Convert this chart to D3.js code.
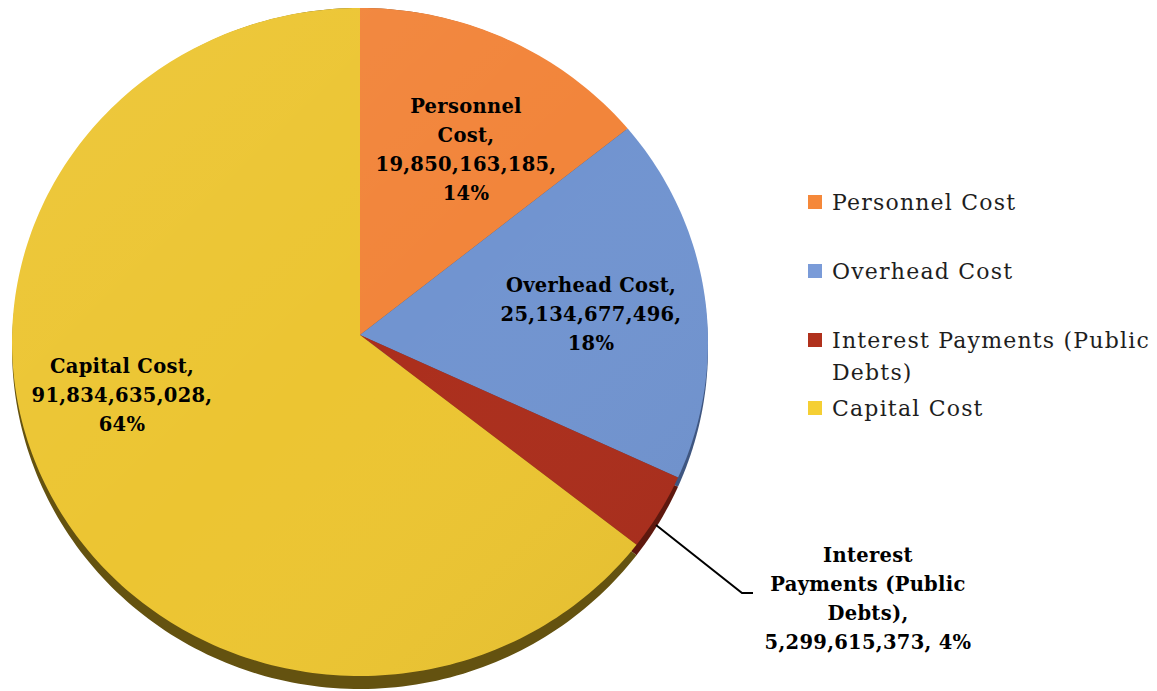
<!DOCTYPE html>
<html>
<head>
<meta charset="utf-8">
<script src="https://cdn.jsdelivr.net/npm/d3@7"></script>
<style>
  html, body { margin: 0; padding: 0; background: #fff; }
  svg { display: block; }
</style>
</head>
<body>
<svg id="chart" width="1157" height="691"></svg>
<script>
// Expenditure breakdown
const categories = ["Personnel Cost", "Overhead Cost", "Interest Payments (Public Debts)", "Capital Cost"];
const values = [19850163185, 25134677496, 5299615373, 91834635028];
const percents = ["14%", "18%", "4%", "64%"];
const faceColors = ["#f2853b", "#7194d0", "#ab2e1c", "#ecc532"];
const sideColors = ["#8a4a1c", "#3f5680", "#5e180e", "#645210"];
const legendColors = ["#f5883a", "#7a9bd8", "#b0311c", "#f5cf34"];

const fmt = d3.format(",");

// Label lines per slice (wrapped as in the chart)
const labelLines = [
  ["Personnel", "Cost,", fmt(values[0]) + ",", percents[0]],
  ["Overhead Cost,", fmt(values[1]) + ",", percents[1]],
  ["Interest", "Payments (Public", "Debts),", fmt(values[2]) + ", " + percents[2]],
  ["Capital Cost,", fmt(values[3]) + ",", percents[3]]
];
// label block centres (x, first line y)
const labelPos = [[466, 106], [591, 285], [868, 555], [122, 366]];

const svg = d3.select("#chart");
const defs = svg.append("defs");

// tilted pie geometry
const vx = 360, vy = 335;      // apex of the slices
const cx = 360, cy = 342;      // centre of the rim ellipse
const rx = 348, ry = 334;
const depth = 13;

const pie = d3.pie().sort(null).value(d => d)(values);

function pt(a, down) {
  const k = down ? depth / 2 : 0;
  return [cx + rx * Math.sin(a), (cy + k) - (ry + k) * Math.cos(a)];
}
function slicePath(d, down) {
  const p = d3.path();
  const s = pt(d.startAngle, down);
  p.moveTo(vx, vy + (down ? depth : 0));
  p.lineTo(s[0], s[1]);
  const n = Math.max(8, Math.ceil((d.endAngle - d.startAngle) / 0.02));
  for (let i = 1; i <= n; i++) {
    const a = d.startAngle + (d.endAngle - d.startAngle) * i / n;
    const q = pt(a, down);
    p.lineTo(q[0], q[1]);
  }
  p.closePath();
  return p.toString();
}

// side (extruded rim)
const g = svg.append("g");
g.selectAll("path.side")
  .data(pie)
  .join("path")
  .attr("class", "side")
  .attr("d", d => slicePath(d, true))
  .attr("fill", (d, i) => sideColors[i]);

// faces
g.selectAll("path.face")
  .data(pie)
  .join("path")
  .attr("class", "face")
  .attr("d", d => slicePath(d, false))
  .attr("fill", (d, i) => faceColors[i]);

// soft lighting over the face
const lg = defs.append("linearGradient").attr("id", "shade")
  .attr("x1", "0").attr("y1", "0").attr("x2", "1").attr("y2", "1");
lg.append("stop").attr("offset", "0").attr("stop-color", "#fff").attr("stop-opacity", 0.06);
lg.append("stop").attr("offset", "0.5").attr("stop-color", "#fff").attr("stop-opacity", 0);
lg.append("stop").attr("offset", "1").attr("stop-color", "#000").attr("stop-opacity", 0.05);
g.append("ellipse")
  .attr("cx", cx).attr("cy", cy).attr("rx", rx).attr("ry", ry)
  .attr("fill", "url(#shade)");

// leader line for the small slice
svg.append("polyline")
  .attr("points", [[656, 525], [742, 593], [753, 593]].map(p => p.join(",")).join(" "))
  .attr("fill", "none")
  .attr("stroke", "#000")
  .attr("stroke-width", 2);

// data labels
const lineH = 29;
labelLines.forEach((lines, i) => {
  const t = svg.append("text")
    .attr("text-anchor", "middle")
    .attr("font-family", "DejaVu Serif, serif")
    .attr("font-weight", "bold")
    .attr("font-size", 19.5)
    .attr("letter-spacing", 0.3)
    .attr("fill", "#000");
  lines.forEach((ln, j) => {
    t.append("tspan")
      .attr("x", labelPos[i][0])
      .attr("y", labelPos[i][1] + j * lineH)
      .attr("dy", "0.35em")
      .text(ln);
  });
});

// legend
const legendRows = [
  { lines: ["Personnel Cost"], y: 202 },
  { lines: ["Overhead Cost"], y: 271 },
  { lines: ["Interest Payments (Public", "Debts)"], y: 340 },
  { lines: ["Capital Cost"], y: 408 }
];
const leg = svg.append("g");
legendRows.forEach((r, i) => {
  leg.append("rect")
    .attr("x", 808).attr("y", r.y - 7)
    .attr("width", 14).attr("height", 14)
    .attr("fill", legendColors[i]);
  const t = leg.append("text")
    .attr("font-family", "DejaVu Serif, serif")
    .attr("font-size", 22)
    .attr("letter-spacing", 1.2)
    .attr("fill", "#1e1e1e");
  r.lines.forEach((ln, j) => {
    t.append("tspan").attr("x", 832).attr("y", r.y + j * 32).attr("dy", "0.35em").text(ln);
  });
});
</script>
</body>
</html>
